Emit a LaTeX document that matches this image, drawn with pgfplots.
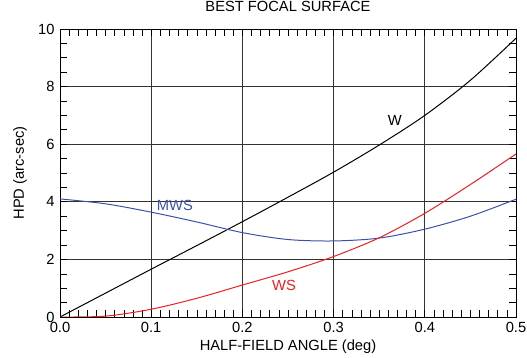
\documentclass[border=0pt]{standalone}
\usepackage{fontspec}
\setmainfont{Liberation Sans}
\usepackage{pgfplots}
\pgfplotsset{compat=1.18}
\definecolor{mwsblue}{RGB}{60,80,170}
\definecolor{wsred}{RGB}{235,30,35}
\begin{document}
\begin{tikzpicture}
\begin{axis}[
  scale only axis, width=456bp, height=288bp,
  at={(0,0)}, anchor=south west,
  xmin=0, xmax=0.5, ymin=0, ymax=10,
  xtick={0,0.1,...,0.5}, ytick={0,2,...,10},
  minor x tick num=9, minor y tick num=3,
  tick align=inside, tick pos=both,
  major tick length=7bp, minor tick length=7bp,
  grid=major,
  major grid style={black!80, line width=0.7pt},
  axis line style={black, line width=0.8pt},
  every tick/.style={black, line width=0.6pt},
  font=\fontsize{14.7bp}{17bp}\selectfont,
  /pgf/number format/assume math mode=true,
  xticklabel style={/pgf/number format/.cd, fixed, fixed zerofill, precision=1},
  yticklabel style={/pgf/number format/.cd, fixed, precision=0},
  xticklabel shift=2bp, yticklabel shift=2bp,
  title={BEST FOCAL SURFACE},
  title style={at={([yshift=12bp]axis description cs:0.5,1)}, anchor=base, inner sep=0pt},
  xlabel={HALF-FIELD ANGLE (deg)},
  xlabel style={at={([yshift=-33bp]axis description cs:0.5,0)}, anchor=base, inner sep=0pt},
  ylabel={HPD (arc-sec)},
  ylabel style={at={([xshift=-36bp]axis description cs:0,0.5)}, anchor=base, inner sep=0pt},
]
\addplot[black, line width=1pt, smooth] coordinates {
(0,0)(0.05,0.83)(0.1,1.66)(0.15,2.48)(0.2,3.31)(0.25,4.16)(0.3,5.03)(0.35,5.97)(0.4,7.0)(0.45,8.22)(0.5,9.68)};
\addplot[mwsblue, line width=1pt, smooth] coordinates {
(0,4.1)(0.05,3.93)(0.1,3.64)(0.15,3.3)(0.2,2.93)(0.25,2.69)(0.3,2.64)(0.35,2.74)(0.4,3.05)(0.45,3.5)(0.5,4.09)};
\addplot[wsred, line width=1pt, smooth] coordinates {
(0,0)(0.05,0.03)(0.1,0.27)(0.15,0.65)(0.2,1.11)(0.25,1.57)(0.3,2.1)(0.35,2.75)(0.4,3.6)(0.45,4.6)(0.5,5.66)};
\node[black, inner sep=0pt] at (axis cs:0.367,6.82) {W};
\node[mwsblue, inner sep=0pt] at (axis cs:0.126,3.87) {MWS};
\node[wsred, inner sep=0pt] at (axis cs:0.2456,1.10) {WS};
\end{axis}
\pgfresetboundingbox
\path[use as bounding box] (-60bp,-41bp) rectangle (467bp,317bp);
\end{tikzpicture}
\end{document}
